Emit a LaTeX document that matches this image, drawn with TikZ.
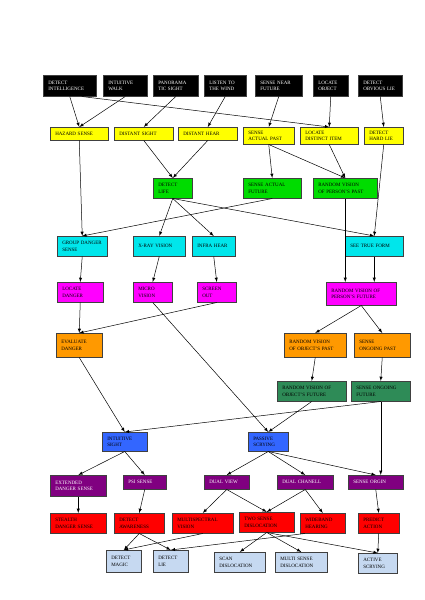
\documentclass[tikz,border=0pt]{standalone}
\usepackage{fontspec}
\setmainfont{Liberation Serif}
\usetikzlibrary{arrows}

\definecolor{yel}{RGB}{255,255,0}
\definecolor{grn}{RGB}{0,220,0}
\definecolor{cya}{RGB}{0,230,235}
\definecolor{mag}{RGB}{255,0,255}
\definecolor{ora}{RGB}{255,153,0}
\definecolor{sea}{RGB}{46,139,87}
\definecolor{blu}{RGB}{51,102,255}
\definecolor{pur}{RGB}{128,0,128}
\definecolor{rd}{RGB}{255,0,0}
\definecolor{lbl}{RGB}{198,217,241}

\begin{document}
\begin{tikzpicture}[x=1pt,y=-1pt,>=latex,
	skill/.style={draw=black!75,line width=0.5pt,anchor=north west,inner xsep=5pt,inner ysep=0pt,align=left,font=\fontsize{5}{6.5}\selectfont},
	dark/.style={skill,fill=black,text=white},
	yelbox/.style={skill,fill=yel},
	grnbox/.style={skill,fill=grn},
	cyabox/.style={skill,fill=cya},
	magbox/.style={skill,fill=mag},
	orabox/.style={skill,fill=ora},
	seabox/.style={skill,fill=sea},
	blubox/.style={skill,fill=blu},
	purbox/.style={skill,fill=pur,text=white},
	redbox/.style={skill,fill=rd},
	lblbox/.style={skill,fill=lbl},
	link/.style={->,line width=0.5pt}]
					\useasboundingbox (0,0) rectangle (424,600);
					
					% first row
					\node[dark,text width=43pt,minimum height=21pt] (detint) at (43,75) {DETECT\\INTELLIGENCE};
					\node[dark,text width=34pt,minimum height=21pt] (intwalk) at (103,75) {INTUITIVE\\WALK};
					\node[dark,text width=35pt,minimum height=21pt] (panor) at (153,75) {PANORAMA\\TIC~SIGHT};
					\node[dark,text width=32pt,minimum height=21pt] (wind) at (204,75) {LISTEN~TO\\THE~WIND};
					\node[dark,text width=37pt,minimum height=21pt] (nearfut) at (255,75) {SENSE~NEAR\\FUTURE};
					\node[dark,text width=25pt,minimum height=21pt] (locobj) at (313,75) {LOCATE\\OBJECT};
					\node[dark,text width=34pt,minimum height=21pt] (obvlie) at (358,75) {DETECT\\OBVIOUS~LIE};
					
					\node[yelbox,text width=48pt,minimum height=13pt] (hazard) at (50,127) {HAZARD~SENSE};
					\node[yelbox,text width=49pt,minimum height=13pt] (dsight) at (114,127) {DISTANT~SIGHT};
					\node[yelbox,text width=49pt,minimum height=13pt] (dhear) at (178,127) {DISTANT~HEAR};
					\node[yelbox,text width=41pt,minimum height=17pt] (actpast) at (243,127) {SENSE\\ACTUAL~PAST};
					\node[yelbox,text width=48pt,minimum height=17pt] (distitem) at (300,127) {LOCATE\\DISTINCT~ITEM};
					\node[yelbox,text width=29pt,minimum height=17pt] (hardlie) at (364,127) {DETECT\\HARD~LIE};
					
					\node[grnbox,text width=29pt,minimum height=20pt] (life) at (153,178) {DETECT\\LIFE};
					\node[grnbox,text width=48pt,minimum height=20pt] (actfut) at (243,178) {SENSE~ACTUAL\\FUTURE};
					\node[grnbox,text width=54pt,minimum height=20pt] (perpast) at (313,178) {RANDOM~VISION\\OF~PERSON'S~PAST};
					
					\node[cyabox,text width=40pt,minimum height=20pt] (group) at (57,236) {GROUP~DANGER\\SENSE};
					\node[cyabox,text width=42pt,minimum height=20pt] (xray) at (133,236) {X-RAY~VISION};
					\node[cyabox,text width=33pt,minimum height=20pt] (infra) at (192,236) {INFRA~HEAR};
					\node[cyabox,text width=48pt,minimum height=20pt] (trueform) at (345,236) {SEE~TRUE~FORM};
					
					\node[magbox,text width=36pt,minimum height=20pt] (locdang) at (57,282) {LOCATE\\DANGER};
					\node[magbox,text width=29pt,minimum height=20pt] (micro) at (133,282) {MICRO\\VISION};
					\node[magbox,text width=29pt,minimum height=20pt] (screen) at (197,282) {SCREEN\\OUT};
					\node[magbox,text width=60pt,minimum height=23pt] (perfut) at (326,282) {RANDOM~VISION~OF\\PERSON'S~FUTURE};
					
					\node[orabox,text width=36pt,minimum height=24pt] (evaldang) at (56,333) {EVALUATE\\DANGER};
					\node[orabox,text width=52pt,minimum height=24pt] (objpast) at (284,333) {RANDOM~VISION\\OF~OBJECT'S~PAST};
					\node[orabox,text width=46pt,minimum height=24pt] (ongpast) at (354,333) {SENSE\\ONGOING~PAST};
					
					\node[seabox,text width=59pt,minimum height=20pt] (objfut) at (277,381) {RANDOM~VISION~OF\\OBJECT'S~FUTURE};
					\node[seabox,text width=49pt,minimum height=20pt] (ongfut) at (351,381) {SENSE~ONGOING\\FUTURE};
					
					\node[blubox,text width=35pt,minimum height=19pt] (intsight) at (102,432) {INTUITIVE\\SIGHT};
					\node[blubox,text width=30pt,minimum height=19pt] (passive) at (248,432) {PASSIVE\\SCRYING};
					
					\node[purbox,text width=46pt,minimum height=21pt] (extdang) at (50,475) {EXTENDED\\DANGER~SENSE};
					\node[purbox,text width=33pt,minimum height=14pt] (psi) at (123,475) {PSI~SENSE};
					\node[purbox,text width=35pt,minimum height=14pt] (dualview) at (204,475) {DUAL~VIEW};
					\node[purbox,text width=46pt,minimum height=14pt] (dualchan) at (277,475) {DUAL~CHANELL};
					\node[purbox,text width=45pt,minimum height=14pt] (origin) at (348,475) {SENSE~ORGIN};
					
					\node[redbox,text width=46pt,minimum height=20pt] (stealth) at (50,513) {STEALTH\\DANGER~SENSE};
					\node[redbox,text width=40pt,minimum height=20pt] (aware) at (114,513) {DETECT\\AWARENESS};
					\node[redbox,text width=51pt,minimum height=20pt] (multspec) at (172,513) {MULTISPECTRAL\\VISION};
					\node[redbox,text width=45pt,minimum height=20pt] (twosense) at (239,512) {TWO~SENSE\\DISLOCATION};
					\node[redbox,text width=35pt,minimum height=20pt] (wideband) at (300,513) {WIDEBAND\\HEARING};
					\node[redbox,text width=31pt,minimum height=20pt] (predict) at (358,513) {PREDICT\\ACTION};
					
					% last row
					\node[lblbox,text width=25pt,minimum height=22pt] (magic) at (106,550) {DETECT\\MAGIC};
					\node[lblbox,text width=25pt,minimum height=22pt] (lie) at (153,550) {DETECT\\LIE};
					\node[lblbox,text width=41pt,minimum height=20pt] (scan) at (214,552) {SCAN\\DISLOCATION};
					\node[lblbox,text width=42pt,minimum height=20pt] (multdis) at (275,552) {MULTI~SENSE\\DISLOCATION};
					\node[lblbox,text width=29pt,minimum height=20pt] (active) at (358,553) {ACTIVE\\SCRYING};
					
					% links
					\draw[link] (detint.south) -- (hazard.north);
					\draw[link] (intwalk.south) -- (hazard.north);
					\draw[link] ([xshift=12pt]detint.south) -- (distitem.north);
					\draw[link] (panor.south) -- (dsight.north);
					\draw[link] (wind.south) -- (dhear.north);
					\draw[link] (nearfut.south) -- (actpast.north);
					\draw[link] (locobj.south) -- (distitem.north);
					\draw[link] (obvlie.south) -- (hardlie.north);
					
					\draw[link] (hazard.south) -- (group.north);
					\draw[link] (dsight.south) -- (life.north);
					\draw[link] (dhear.south) -- (life.north);
					\draw[link] (actpast.south) -- (actfut.north);
					\draw[link] (actpast.south) -- (perpast.north);
					\draw[link] (distitem.south) -- (perpast.north);
					\draw[link] (hardlie.south) -- (trueform.north);
					
					\draw[link] (life.south) -- (xray.north);
					\draw[link] (life.south) -- (infra.north);
					\draw[link] (life.south) -- (trueform.north);
					\draw[link] (actfut.south) -- (group.north);
					\draw[link] (perpast.south) -- ([xshift=-16pt]perfut.north);
					
					\draw[link] (group.south) -- (locdang.north);
					\draw[link] (xray.south) -- (micro.north);
					\draw[link] (infra.south) -- (screen.north);
					\draw[link] (trueform.south) -- (trueform.south |- perfut.north);
					
					\draw[link] (locdang.south) -- (evaldang.north);
					\draw[link] (screen.south) -- (evaldang.north);
					\draw[link] (micro.south) -- (passive.north);
					\draw[link] (perfut.south) -- (objpast.north);
					\draw[link] (perfut.south) -- (ongpast.north);
					
					\draw[link] (evaldang.south) -- (intsight.north);
					\draw[link] (objpast.south) -- (objfut.north);
					\draw[link] (ongpast.south) -- (ongfut.north);
					
					\draw[link] (objfut.south) -- (passive.north);
					\draw[link] (ongfut.south) -- (intsight.north);
					\draw[link] (ongfut.south) -- (ongfut.south |- origin.north);
					
					\draw[link] (intsight.south) -- (extdang.north);
					\draw[link] (intsight.south) -- (psi.north);
					\draw[link] (passive.south) -- (dualview.north);
					\draw[link] (passive.south) -- (dualchan.north);
					\draw[link] (passive.south) -- (origin.north);
					
					\draw[link] (extdang.south) -- (stealth.north);
					\draw[link] (psi.south) -- (aware.north);
					\draw[link] (dualview.south) -- (multspec.north);
					\draw[link] (dualview.south) -- (twosense.north);
					\draw[link] (dualchan.south) -- (twosense.north);
					\draw[link] (dualchan.south) -- (wideband.north);
					\draw[link] (origin.south) -- (predict.north);
					
					\draw[link] (aware.south) -- (magic.north);
					\draw[link] (aware.south) -- (lie.north);
					\draw[link] (multspec.south) -- (magic.north);
					\draw[link] ([xshift=-18pt]wideband.south) -- (lie.north);
					\draw[link] (twosense.south) -- (scan.north);
					\draw[link] (twosense.south) -- (multdis.north);
					\draw[link] (twosense.south) -- (active.north);
					\draw[link] (predict.south) -- (active.north);
				\end{tikzpicture}
\end{document}
